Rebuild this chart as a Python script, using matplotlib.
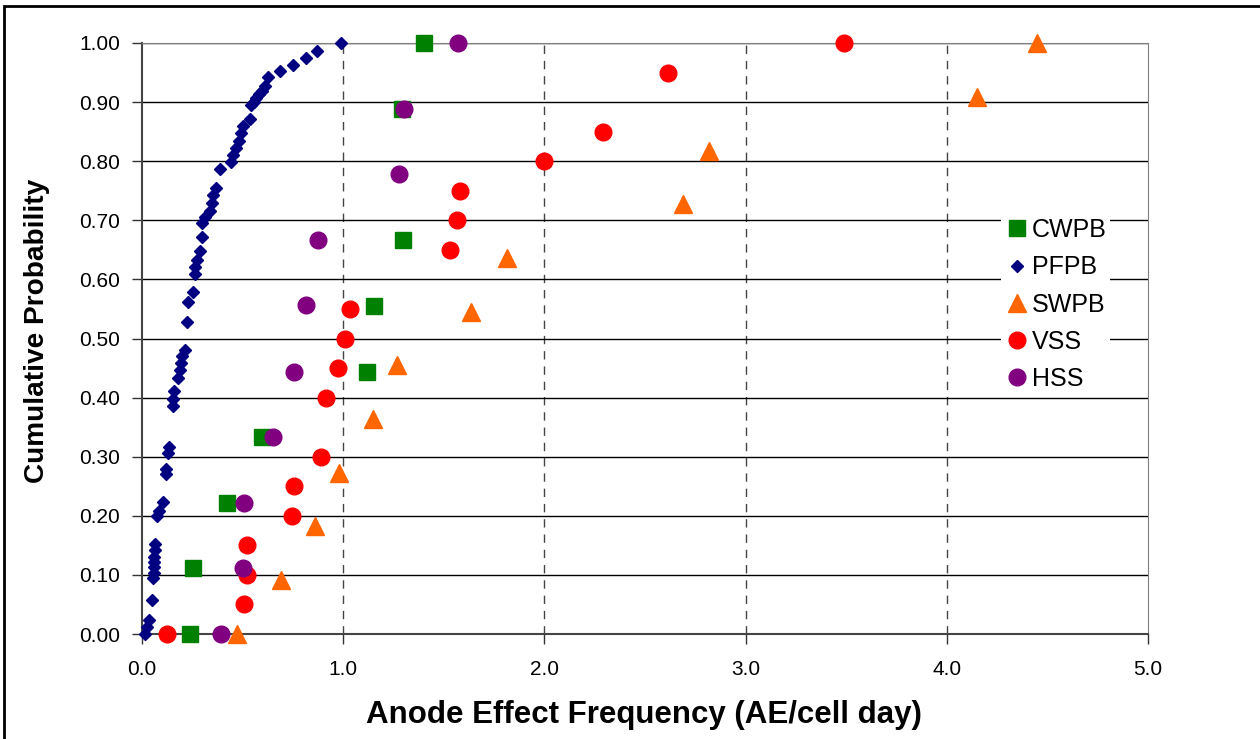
import matplotlib
matplotlib.use("Agg")
import matplotlib.pyplot as plt
from matplotlib.patches import Rectangle

plt.rcParams['font.family'] = ['Liberation Sans', 'DejaVu Sans']

# data
cwpb_x = [0.24, 0.255, 0.42, 0.594, 1.12, 1.155, 1.295, 1.29, 1.40]
cwpb_y = [0.0, 0.111, 0.222, 0.333, 0.444, 0.555, 0.666, 0.888, 1.0]

pfpb_x = [0.015, 0.023, 0.035, 0.048, 0.056, 0.058, 0.058, 0.058, 0.06, 0.066,
          0.067, 0.075, 0.085, 0.105, 0.118, 0.12, 0.127, 0.135, 0.152, 0.152,
          0.16, 0.177, 0.19, 0.195, 0.197, 0.213, 0.222, 0.23, 0.255, 0.263,
          0.263, 0.272, 0.288, 0.296, 0.296, 0.312, 0.337, 0.346, 0.354, 0.367,
          0.39, 0.441, 0.45, 0.466, 0.483, 0.49, 0.503, 0.536, 0.544, 0.556,
          0.569, 0.582, 0.594, 0.61, 0.627, 0.688, 0.751, 0.817, 0.87, 0.991]
pfpb_y = [0.0, 0.012, 0.023, 0.057, 0.094, 0.104, 0.113, 0.122, 0.130, 0.142,
          0.152, 0.200, 0.208, 0.224, 0.270, 0.280, 0.306, 0.317, 0.386, 0.397,
          0.412, 0.434, 0.447, 0.458, 0.470, 0.481, 0.528, 0.562, 0.578, 0.609,
          0.621, 0.633, 0.648, 0.671, 0.695, 0.706, 0.715, 0.729, 0.743, 0.754,
          0.787, 0.799, 0.811, 0.822, 0.834, 0.847, 0.860, 0.871, 0.895, 0.900,
          0.907, 0.913, 0.919, 0.928, 0.942, 0.952, 0.962, 0.975, 0.986, 1.0]

swpb_x = [0.47, 0.69, 0.862, 0.979, 1.15, 1.265, 1.637, 1.815, 2.69, 2.82, 4.15, 4.45]
swpb_y = [0.0, 0.091, 0.182, 0.273, 0.364, 0.455, 0.545, 0.636, 0.727, 0.818, 0.909, 1.0]

vss_x = [0.122, 0.506, 0.524, 0.524, 0.745, 0.754, 0.891, 0.916, 0.974, 1.01,
         1.032, 1.53, 1.565, 1.58, 2.0, 2.29, 2.615, 3.49]
vss_y = [0.0, 0.05, 0.10, 0.15, 0.20, 0.25, 0.30, 0.40, 0.45, 0.50,
         0.55, 0.65, 0.70, 0.75, 0.80, 0.85, 0.95, 1.0]

hss_x = [0.395, 0.50, 0.508, 0.651, 0.754, 0.813, 0.875, 1.275, 1.30, 1.573]
hss_y = [0.0, 0.111, 0.222, 0.333, 0.444, 0.556, 0.667, 0.778, 0.889, 1.0]

fig = plt.figure(figsize=(12.6, 7.39), dpi=100)
ax = fig.add_axes([142 / 1260, 1 - 634 / 739, (1148 - 142) / 1260, (634 - 43) / 739])

ax.plot(cwpb_x, cwpb_y, ls='none', marker='s', ms=11, color='#008000', label='CWPB', clip_on=False, zorder=3)
ax.plot(pfpb_x, pfpb_y, ls='none', marker='D', ms=6.5, color='#000080', label='PFPB', clip_on=False, zorder=3)
ax.plot(swpb_x, swpb_y, ls='none', marker='^', ms=13, color='#FF6600', label='SWPB', clip_on=False, zorder=3)
ax.plot(vss_x, vss_y, ls='none', marker='o', ms=12, color='#FF0000', label='VSS', clip_on=False, zorder=3)
ax.plot(hss_x, hss_y, ls='none', marker='o', ms=12, color='#800080', label='HSS', clip_on=False, zorder=3)

ax.set_xlim(0, 5)
ax.set_ylim(0, 1)
ax.set_xticks([0, 1, 2, 3, 4, 5])
ax.set_xticklabels(['0.0', '1.0', '2.0', '3.0', '4.0', '5.0'])
ax.set_yticks([i / 10 for i in range(11)])
ax.set_yticklabels(['%.2f' % (i / 10) for i in range(11)])
ax.tick_params(labelsize=15, length=7, width=1, color='#333333', direction='out')
ax.tick_params(axis='x', pad=12)
ax.tick_params(axis='y', pad=9)

ax.set_axisbelow(True)
ax.grid(axis='y', color='black', lw=1, ls='-')
for xv in [1, 2, 3, 4]:
    ax.axvline(xv, color='#444444', lw=1, ls=(0, (6, 5)), zorder=0)

for s in ['top', 'right']:
    ax.spines[s].set_color('#808080')
ax.spines['left'].set_color('#444444')
ax.spines['bottom'].set_color('#444444')
ax.spines['left'].set_linewidth(1.5)
ax.spines['bottom'].set_linewidth(1.5)

ax.set_xlabel('Anode Effect Frequency (AE/cell day)', fontsize=22.5, fontweight='bold')
ax.set_ylabel('Cumulative Probability', fontsize=20.2, fontweight='bold')
ax.xaxis.set_label_coords(0.499, -0.112)
ax.yaxis.set_label_coords(-0.091, 0.513)

leg = ax.legend(loc='upper left', bbox_to_anchor=(0.841, 0.731), fontsize=18, frameon=True,
                fancybox=False, edgecolor='none', facecolor='white', framealpha=1,
                handletextpad=0.1, labelspacing=0.53, borderpad=0.15, markerscale=1.0,
                handlelength=1.0)

fig.patches.append(Rectangle((4 / 1260, -0.05), 1.1, 1 - 6 / 739 + 0.05, transform=fig.transFigure,
                             fill=False, edgecolor='black', lw=2))

fig.savefig('out.png', dpi=100)
